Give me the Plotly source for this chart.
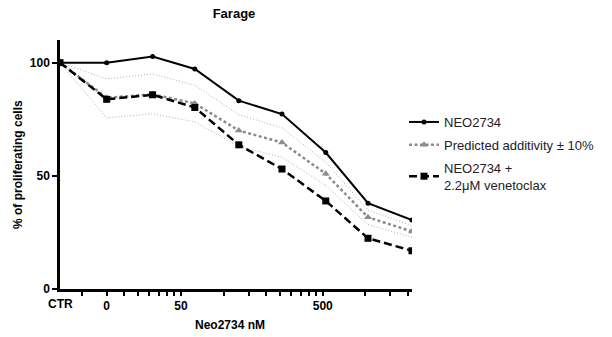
import plotly.graph_objects as go

# Dose positions (nM); first point is the untreated control (CTR) placed at the axis start
doses = [7.03, 15.0, 31.6, 62.7, 128, 258, 525, 1042, 2127]

neo2734 = [100, 100, 102.7, 97.2, 83.2, 77.3, 60.3, 37.9, 30.5]
predicted = [100, 84.5, 86.0, 82.0, 70.0, 64.7, 50.9, 31.7, 25.4]
pred_upper = [100, 92.8, 95.0, 90.0, 77.0, 71.2, 56.0, 34.9, 28.0]
pred_lower = [100, 75.6, 77.4, 73.8, 63.0, 58.2, 45.8, 28.5, 22.9]
neo_veneto = [100, 83.8, 85.8, 80.2, 63.7, 53.0, 38.9, 22.4, 16.9]

x_tickvals = [10, 15, 20, 25, 30, 35, 40, 45, 50, 100, 150, 200, 250, 300, 350,
              400, 450, 500, 1000, 1500, 2000]
x_ticklabels = {15: "0", 50: "50", 500: "500"}
y_tickvals = [0, 50, 100]

font = "Liberation Sans, Arial, sans-serif"

# plot area in pixels (for placing text in paper coords)
PL, PR, PT, PB = 60, 412, 40, 289
def px_x(px):
    return (px - PL) / (PR - PL)
def px_y(py):
    return (PB - py) / (PB - PT)

fig = go.Figure()

fig.add_trace(go.Scatter(x=doses, y=pred_upper, mode="lines", showlegend=False,
                         line=dict(color="#b0b0b0", width=1, dash="1px,2px"), hoverinfo="skip"))
fig.add_trace(go.Scatter(x=doses, y=pred_lower, mode="lines", showlegend=False,
                         line=dict(color="#b0b0b0", width=1, dash="1px,2px"), hoverinfo="skip"))

fig.add_trace(go.Scatter(x=doses, y=neo2734, mode="lines+markers", name="NEO2734",
                         legendgroup="a",
                         line=dict(color="black", width=2),
                         marker=dict(symbol="circle", size=5, color="black")))
fig.add_trace(go.Scatter(x=doses, y=predicted, mode="lines+markers",
                         name="Predicted additivity ± 10%", legendgroup="b",
                         line=dict(color="#8c8c8c", width=2.5, dash="3px,2.5px"),
                         marker=dict(symbol="triangle-up", size=7, color="#8c8c8c")))
fig.add_trace(go.Scatter(x=doses, y=neo_veneto, mode="lines+markers",
                         name="NEO2734 +<br>2.2μM venetoclax", legendgroup="c",
                         line=dict(color="black", width=2.5, dash="8px,4px"),
                         marker=dict(symbol="square", size=7, color="black")))

fig.update_layout(
    width=612, height=337,
    margin=dict(l=PL, r=612 - PR, t=PT, b=337 - PB),
    paper_bgcolor="white", plot_bgcolor="white",
    font=dict(family=font, color="black", size=12),
    title=dict(text="<b>Farage</b>", x=234 / 612, xanchor="center",
               y=1 - 13 / 337, yanchor="middle", font=dict(size=13)),
    showlegend=True,
    legend=dict(x=px_x(404), xanchor="left", y=px_y(107), yanchor="top",
                font=dict(size=13, color="#222"), bgcolor="rgba(0,0,0,0)",
                traceorder="grouped", tracegroupgap=3),
)

fig.update_xaxes(
    type="log", range=[0.847, 3.328], automargin=False,
    showgrid=False, zeroline=False,
    showline=True, linecolor="black", linewidth=2.5,
    ticks="outside", ticklen=4, tickwidth=2, tickcolor="black",
    tickvals=x_tickvals,
    ticktext=["<b>%s</b>" % x_ticklabels[v] if v in x_ticklabels else "" for v in x_tickvals],
    tickfont=dict(size=12, family=font),
)
fig.update_yaxes(
    range=[0, 110], automargin=False,
    showgrid=False, zeroline=False,
    showline=True, linecolor="black", linewidth=2.5,
    ticks="outside", ticklen=5, tickwidth=2, tickcolor="black",
    tickvals=y_tickvals, ticktext=["<b>%d</b>" % v for v in y_tickvals],
    tickfont=dict(size=12, family=font),
)

fig.add_annotation(x=0, xref="paper", y=0, yref="paper", text="<b>CTR</b>",
                   showarrow=False, xanchor="center", yanchor="top", yshift=-6,
                   font=dict(size=12, family=font))
fig.add_annotation(x=px_x(230), xref="paper", y=px_y(325), yref="paper",
                   text="<b>Neo2734 nM</b>", showarrow=False,
                   xanchor="center", yanchor="middle", font=dict(size=12, family=font))
fig.add_annotation(x=px_x(18), xref="paper", y=px_y(165), yref="paper",
                   text="<b>% of proliferating cells</b>", showarrow=False, textangle=-90,
                   xanchor="center", yanchor="middle", font=dict(size=12, family=font))

fig.write_html("out.html")
